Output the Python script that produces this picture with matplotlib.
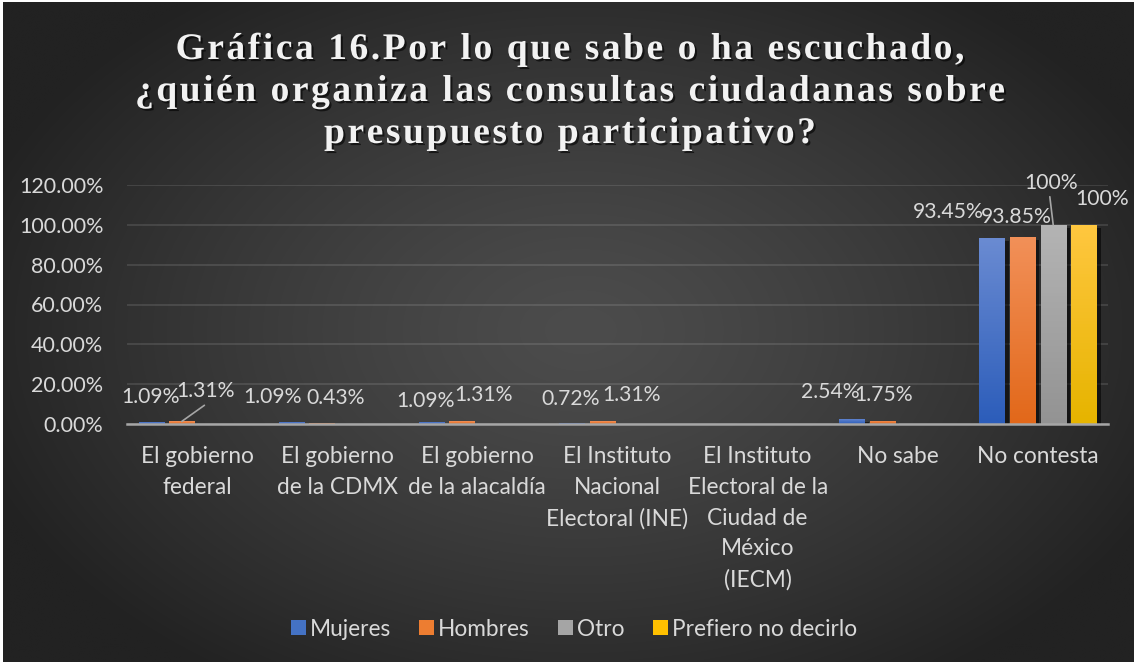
import numpy as np
import matplotlib
matplotlib.use("Agg")
import matplotlib.pyplot as plt
import matplotlib.patheffects as pe
from matplotlib import font_manager
from matplotlib.ft2font import FT2Font
from matplotlib.colors import LinearSegmentedColormap, to_rgb
from matplotlib.patches import Patch

# data (percent)
categories = ["El gobierno\nfederal", "El gobierno\nde la CDMX", "El gobierno\nde la alacaldía",
              "El Instituto\nNacional\nElectoral (INE)",
              "El Instituto\nElectoral de la\nCiudad de\nMéxico\n(IECM)",
              "No sabe", "No contesta"]
series_names = ["Mujeres", "Hombres", "Otro", "Prefiero no decirlo"]
mujeres  = [1.09, 1.09, 1.09, 0.72, None, 2.54, 93.45]
hombres  = [1.31, 0.43, 1.31, 1.31, None, 1.75, 93.85]
otro     = [None, None, None, None, None, None, 100]
prefiero = [None, None, None, None, None, None, 100]
label_text = {("Otro", 6): "100%", ("Prefiero no decirlo", 6): "100%"}

title_lines = ["Gráfica 16.Por lo que sabe o ha escuchado,",
               "¿quién organiza las consultas ciudadanas sobre",
               "presupuesto participativo?"]

# colours: (top, bottom) of the bar gradient, legend colour
colors = {"Mujeres": ("#6A8BD2", "#2C5DBA", "#4472C4"),
          "Hombres": ("#F29058", "#E2681A", "#ED7D31"),
          "Otro": ("#B4B4B4", "#939393", "#A5A5A5"),
          "Prefiero no decirlo": ("#FFC73F", "#E6B400", "#FFC000")}

# manual label offsets in pixels (dx, dy above bar top), like the moved Excel labels
label_offsets = {
    "Mujeres":  [(-1, 25), (-19, 25), (-6, 21), (-1, 24), None, (-22, 27), (-44, 26)],
    "Hombres":  [(24, 30), (14, 25), (21, 26), (29, 26), None, (1, 26), (-6, 20)],
    "Otro":     [None] * 6 + [(-2, 42)],
    "Prefiero no decirlo": [None] * 6 + [(18, 26)],
}
leader = {("Hombres", 0), ("Otro", 6)}

W, H = 1136, 664
fig = plt.figure(figsize=(W / 100, H / 100), dpi=100, facecolor="white")

# background radial gradient
bg = fig.add_axes([3 / W, 2 / H, (W - 5) / W, (H - 4) / H])
yy, xx = np.mgrid[0:H, 0:W]
r = np.sqrt(((xx - 580) / 640.0) ** 2 + ((yy - 330) / 420.0) ** 2)
r = np.clip(r, 0, 1) ** 1.3
c0, c1 = np.array(to_rgb("#4C4C4C")), np.array(to_rgb("#222222"))
img = c0[None, None, :] * (1 - r[..., None]) + c1[None, None, :] * r[..., None]
bg.imshow(img, aspect="auto", extent=[0, 1, 0, 1])
bg.set_axis_off()

ax = fig.add_axes([127 / W, 240 / H, 981 / W, 239 / H])
ax.patch.set_alpha(0)

sans = "Lato"
tick_color = "#D9D9D9"
fs_y = 15.5
fs_x = 16.3
fs_lab = 15.2
fs_leg = 16.3

x = np.arange(len(categories))
slot, width = 0.218, 0.18
all_series = [mujeres, hombres, otro, prefiero]

for i, (name, vals) in enumerate(zip(series_names, all_series)):
    v = np.array([np.nan if a is None else a for a in vals], dtype=float)
    pos = x + (i - 1.5) * slot
    top, bottom, _ = colors[name]
    bars = ax.bar(pos, np.nan_to_num(v), width, color=colors[name][2], zorder=3,
                  path_effects=[pe.SimplePatchShadow(offset=(3, -2), shadow_rgbFace="black", alpha=0.55),
                                pe.Normal()])
    cmap = LinearSegmentedColormap.from_list(name, [bottom, top])
    grad = np.linspace(0, 1, 64).reshape(-1, 1)
    for j, b in enumerate(bars):
        if np.isnan(v[j]) or v[j] == 0:
            continue
        im = ax.imshow(grad, cmap=cmap, origin="lower", aspect="auto", zorder=4,
                       extent=[b.get_x(), b.get_x() + b.get_width(), 0, b.get_height()])
        im.set_clip_path(b)
        off = label_offsets[name][j]
        txt = label_text.get((name, j), f"{v[j]:.2f}%")
        xt, yt = b.get_x() + b.get_width() / 2, b.get_height()
        ax.annotate(txt, (xt, yt), xytext=(off[0] * 0.72, off[1] * 0.72), textcoords="offset points",
                    ha="center", va="center", fontsize=fs_lab, family=sans, color=tick_color,
                    zorder=6, annotation_clip=False)
        if (name, j) in leader:
            ax.annotate("", (xt, yt), xytext=(off[0] * 0.72 - 1, off[1] * 0.72 - 10),
                        textcoords="offset points", zorder=6, annotation_clip=False,
                        arrowprops=dict(arrowstyle="-", color="#A6A6A6", lw=1.2,
                                        shrinkA=0, shrinkB=0))

ax.set_xlim(-0.5, len(categories) - 0.5)
ax.set_ylim(0, 120)
ax.set_yticks(np.arange(0, 121, 20))
ax.set_yticklabels([f"{t:.2f}%" for t in np.arange(0, 121, 20)])
ax.set_xticks(x)
ax.set_xticklabels(categories, linespacing=1.57)
ax.tick_params(axis="both", length=0, colors=tick_color)
ax.tick_params(axis="y", pad=17, labelsize=fs_y)
ax.tick_params(axis="x", pad=16, labelsize=fs_x)
for lab in ax.get_xticklabels() + ax.get_yticklabels():
    lab.set_family(sans)
ax.grid(axis="y", color="white", alpha=0.13, lw=1.2, zorder=1)
ax.set_axisbelow(True)
for s in ["top", "right", "left"]:
    ax.spines[s].set_visible(False)
ax.spines["bottom"].set_color("#A6A6A6")
ax.spines["bottom"].set_linewidth(1.8)
ax.spines["bottom"].set_zorder(5)

# legend
handles = [Patch(facecolor=colors[n][2], edgecolor="none") for n in series_names]
leg = fig.legend(handles, series_names, loc="center", bbox_to_anchor=(574 / W, 1 - 629 / H),
                 ncol=4, frameon=False, handlelength=0.65, handleheight=0.65,
                 handletextpad=0.18, columnspacing=1.25,
                 prop={"family": sans, "size": fs_leg})
for t in leg.get_texts():
    t.set_color(tick_color)

# title with expanded letter spacing
tsize = 27
fpath = font_manager.findfont(font_manager.FontProperties(family="Liberation Serif", weight="bold"))
ft = FT2Font(fpath)
ft.set_size(tsize, 100)


def adv(ch):
    g = ft.load_char(ord(ch))
    return g.linearHoriAdvance / 65536.0


natural = sum(adv(c) for c in title_lines[1])
spacing = (870 - natural) / (len(title_lines[1]) - 1)
baselines = [59, 101, 143]
shadow = [pe.SimplePatchShadow(offset=(1.5, -1.5), shadow_rgbFace="black", alpha=0.6), pe.Normal()]
for line, yb in zip(title_lines, baselines):
    widths = [adv(c) for c in line]
    total = sum(widths) + spacing * (len(line) - 1)
    xc = 570 - total / 2
    for ch, w in zip(line, widths):
        if ch != " ":
            fig.text(xc / W, 1 - yb / H, ch, ha="left", va="baseline", fontsize=tsize,
                     family="Liberation Serif", weight="bold", color="#F2F2F2",
                     path_effects=shadow)
        xc += w + spacing

fig.savefig("out.png", dpi=100, facecolor="white")
